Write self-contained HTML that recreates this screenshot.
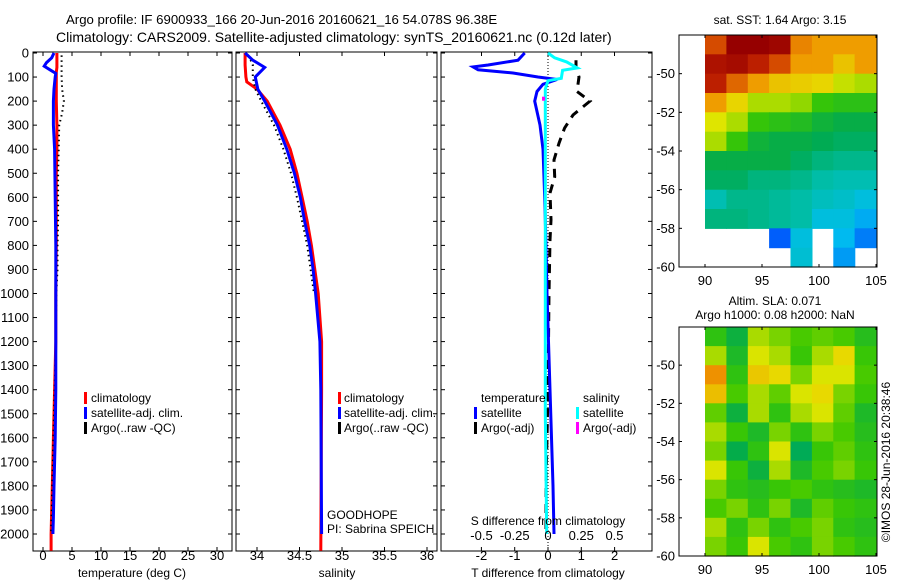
<!DOCTYPE html>
<html><head><meta charset="utf-8">
<style>
html,body{margin:0;padding:0;background:#fff;}
svg{display:block;font-family:"Liberation Sans",sans-serif;font-size:12px;}
</style></head>
<body>
<svg id="fig" width="900" height="580" viewBox="0 0 900 580" xmlns="http://www.w3.org/2000/svg">
<text x="66" y="24" font-size="13.2">Argo profile: IF 6900933_166 20-Jun-2016 20160621_16 54.078S 96.38E</text>
<text x="56" y="42" font-size="14">Climatology: CARS2009. Satellite-adjusted climatology: synTS_20160621.nc (0.12d later)</text>
<g id="g"></g>
</svg>
<script>
// ---------- data ----------
const climDepth = [0,20,40,60,80,100,150,200,300,400,500,600,800,1000,1200,1400,1600,1800,2000,2070];
const climTemp  = [2.4,2.4,2.4,2.4,2.3,2.3,2.3,2.3,2.4,2.4,2.3,2.3,2.3,2.2,2.2,2.0,1.8,1.6,1.4,1.4];
const satDepth  = [0,20,40,55,70,85,100,150,200,300,350,400,600,800,1000,1200,1400,1600,1800,1930,2000];
const satTemp   = [1.9,1.5,0.6,0.2,1.2,2.2,2.1,1.9,1.8,1.8,1.9,2.0,2.1,2.2,2.2,2.2,2.2,2.1,1.9,1.8,1.7];
const argoDepth = [10,50,100,150,200,250,300,400,500,600,700,800,900,1000,1200,1400,1600,1800,2000];
const argoTemp  = [3.2,3.2,3.2,3.3,3.6,3.3,2.8,2.7,2.6,2.6,2.6,2.5,2.5,2.3,2.2,2.0,1.8,1.6,1.4];

const climSalDepth = [0,50,100,120,150,200,300,400,500,600,700,800,900,1000,1200,1400,2070];
const climSal      = [33.86,33.86,33.87,33.88,34.0,34.12,34.27,34.39,34.47,34.53,34.59,34.64,34.68,34.72,34.76,34.76,34.75];
const satSalDepth  = [0,30,60,100,150,200,300,400,500,600,700,800,900,1000,1200,1400,2000];
const satSal       = [33.86,33.95,34.09,33.98,34.01,34.09,34.24,34.35,34.44,34.51,34.56,34.62,34.66,34.69,34.74,34.75,34.76];
const argoSalDepth = [10,50,100,150,200,300,400,500,600,700,800,900,1000];
const argoSal      = [33.9,33.95,33.95,33.98,34.05,34.2,34.31,34.4,34.47,34.53,34.59,34.63,34.67];

const dTDepth = [0,30,50,58,70,83,100,110,130,160,200,300,400,600,800,1000,1400,1800,2000];
const dTsat   = [-0.7,-0.9,-1.8,-2.25,-2.1,-1.05,-0.3,0.27,-0.15,-0.33,-0.4,-0.24,-0.15,-0.1,-0.06,-0.03,0.06,0.15,0.18];
const dTargoDepth = [30,58,100,160,200,258,312,375,445,515,582,694,777,1000,1400,1800,1990];
const dTargo      = [0.84,0.84,0.93,0.87,1.26,0.75,0.5,0.33,0.18,0.2,0.06,0.09,0.06,0.03,0.0,-0.06,-0.06];
const dSDepth = [0,20,37,62,72,105,115,150,300,600,1000,1500,2000];
const dSsat   = [0,0.05,0.14,0.22,0.11,0.1,0,-0.02,-0.02,-0.02,-0.02,-0.02,-0.01];

const depthTicks = [0,100,200,300,400,500,600,700,800,900,1000,1100,1200,1300,1400,1500,1600,1700,1800,1900,2000];
const tempTicks = [0,5,10,15,20,25,30];
const salTicks = [34,34.5,35,35.5,36];
const salTickLabels = ["34","34.5","35","35.5","36"];
const dTTicks = [-2,-1,0,1,2];
const dSTicks = [-0.5,-0.25,0,0.25,0.5];
const dSTickLabels = ["-0.5","-0.25","0","0.25","0.5"];
const latTicks = [-50,-52,-54,-56,-58,-60];
const lonTicks = [90,95,100,105];

// SST map grid (rows -48..-60, cols 90..105); null = no data
const sstGrid = [
 [5.6,6.5,6.5,6.4,5.2,5.0,5.0,5.0],
 [6.2,6.3,6.0,5.6,5.0,5.0,4.6,5.0],
 [6.0,5.4,5.0,4.6,4.5,4.4,4.1,4.0],
 [5.0,4.4,4.0,4.0,3.9,3.5,3.4,3.4],
 [4.2,4.0,3.5,3.4,3.3,3.1,3.0,3.0],
 [4.0,3.5,3.1,3.0,3.0,2.9,2.8,2.8],
 [3.0,3.0,3.0,3.0,2.8,2.6,2.5,2.5],
 [2.8,2.8,2.6,2.6,2.5,2.3,2.2,2.2],
 [2.2,2.5,2.5,2.4,2.3,2.1,2.0,1.8],
 [2.6,2.6,2.5,2.4,2.3,1.8,1.8,1.5],
 [null,null,null,1.0,1.8,null,1.6,1.2],
 [null,null,null,null,1.9,null,1.4,null]
];
const slaGrid = [
 [0.02,-0.02,0.08,0.06,0.04,0.05,0.04,0.01],
 [0.08,0.0,0.10,0.08,0.03,0.08,0.12,0.03],
 [0.20,0.02,0.14,0.12,0.06,0.10,0.10,0.04],
 [0.15,0.04,0.08,0.05,0.10,0.12,0.06,0.03],
 [0.05,-0.02,0.08,0.02,0.08,0.10,0.05,0.0],
 [0.08,0.03,0.0,0.06,0.02,0.06,0.04,0.01],
 [0.06,-0.03,0.02,0.10,-0.04,0.03,0.05,0.02],
 [0.10,0.03,-0.02,0.08,0.0,0.04,0.06,0.03],
 [0.06,0.02,0.01,0.03,0.04,0.02,0.01,0.0],
 [0.04,0.06,0.02,0.06,0.0,0.05,0.03,0.02],
 [0.08,0.02,0.06,0.02,0.04,0.06,0.02,0.01],
 [0.06,0.03,0.10,0.04,0.02,0.06,0.04,0.02]
];

// ---------- helpers ----------
const NS = "http://www.w3.org/2000/svg";
const G = document.getElementById("g");
function mk(tag, attrs, parent){
  const e = document.createElementNS(NS, tag);
  for (const k in attrs) e.setAttribute(k, attrs[k]);
  (parent||G).appendChild(e);
  return e;
}
const yD = d => 53 + d*0.2405;
const xT = v => 43 + v*5.8;
const xS = v => 257 + (v-34)*85;
const xdT = v => 548 + v*33.3;
const xdS = v => 548 + v*133;

function series(xf, vals, depths, color, w, dash, name){
  let p = "";
  for (let i=0;i<vals.length;i++) p += (i?"L":"M") + xf(vals[i]).toFixed(1) + " " + yD(depths[i]).toFixed(1);
  const e = mk("path",{d:p,fill:"none",stroke:color,"stroke-width":w});
  if (dash) e.setAttribute("stroke-dasharray", dash);
  
  
}
function panel(x0, x1, name, labels){
  const top=52, bot=551;
  const r = mk("rect",{x:x0,y:top,width:x1-x0,height:bot-top,fill:"none",stroke:"#000","stroke-width":1});
  
  
  depthTicks.forEach(d=>{
    const y = yD(d);
    mk("line",{x1:x0,x2:x0+4,y1:y,y2:y,stroke:"#000"});
    mk("line",{x1:x1-4,x2:x1,y1:y,y2:y,stroke:"#000"});
    if (labels){
      const t = mk("text",{x:x0-4,y:y+4.5,"text-anchor":"end","font-size":13});
      t.textContent = d;
      
      
    }
  });
}
function xticks(xf, ticks, labels, y, name, topTicks){
  ticks.forEach((v,i)=>{
    const x = xf(v);
    mk("line",{x1:x,x2:x,y1:551,y2:547,stroke:"#000"});
    if (topTicks) mk("line",{x1:x,x2:x,y1:52,y2:56,stroke:"#000"});
    const t = mk("text",{x:x,y:y,"text-anchor":"middle","font-size":13});
    t.textContent = labels[i];
    
    
  });
}
function label(x,y,txt,name,anchor,fs){
  const t = mk("text",{x:x,y:y,"text-anchor":anchor||"start"});
  if (fs) t.setAttribute("font-size", fs);
  t.textContent = txt;
  
  
  return t;
}
function legendBar(x,y,color,name){
  const r = mk("rect",{x:x,y:y-10,width:3,height:12,fill:color});
  
  
}

// ---------- panel 1: temperature ----------
panel(33,232,"temperature-panel",true);
xticks(xT, tempTicks, tempTicks.map(String), 560, "temperature-tick-label", true);
label(132,577,"temperature (deg C)","temperature-axis-title","middle");
series(xT, climTemp, climDepth, "#f00", 3, null, "temperature-climatology-line");
series(xT, argoTemp, argoDepth, "#000", 2, "1.5,3.5", "temperature-argo-line");
series(xT, satTemp, satDepth, "#00f", 3, null, "temperature-satellite-line");
legendBar(84,402,"#f00","legend-climatology-marker"); label(91,402,"climatology","legend-climatology");
legendBar(84,417,"#00f","legend-satellite-marker"); label(91,417,"satellite-adj. clim.","legend-satellite");
legendBar(84,432,"#000","legend-argo-marker"); label(91,432,"Argo(..raw -QC)","legend-argo");

// ---------- panel 2: salinity ----------
panel(236,437,"salinity-panel",false);
xticks(xS, salTicks, salTickLabels, 560, "salinity-tick-label", true);
label(337,577,"salinity","salinity-axis-title","middle");
series(xS, climSal, climSalDepth, "#f00", 3, null, "salinity-climatology-line");
series(xS, argoSal, argoSalDepth, "#000", 2, "1.5,3.5", "salinity-argo-line");
series(xS, satSal, satSalDepth, "#00f", 3, null, "salinity-satellite-line");
legendBar(338,402,"#f00","legend2-climatology-marker"); label(344,402,"climatology","legend2-climatology");
legendBar(338,417,"#00f","legend2-satellite-marker"); label(344,417,"satellite-adj. clim.","legend2-satellite");
legendBar(338,432,"#000","legend2-argo-marker"); label(344,432,"Argo(..raw -QC)","legend2-argo");
label(327,519,"GOODHOPE","project-label");
label(327,533,"PI: Sabrina SPEICH","pi-label");

// ---------- panel 3: differences ----------
panel(441,652,"difference-panel",false);
xticks(xdT, dTTicks, dTTicks.map(String), 560, "t-diff-tick-label", false);
dSTicks.forEach((v,i)=>{ const x=xdS(v); mk("line",{x1:x,x2:x,y1:52,y2:56,stroke:"#000"}); });
label(548,577,"T difference from climatology","t-diff-axis-title","middle");
const zl = mk("line",{x1:xdT(0),x2:xdT(0),y1:53,y2:551,stroke:"#000","stroke-width":1,"stroke-dasharray":"1,2"});


series(xdT, dTargo, dTargoDepth, "#000", 3, "9,7", "t-diff-argo-line");
series(xdT, dTsat, dTDepth, "#00f", 3, null, "t-diff-satellite-line");
series(xdS, dSsat, dSDepth, "#0ff", 3, null, "s-diff-satellite-line");
const mg = mk("rect",{x:xdS(-0.03)-2,y:yD(190)-2,width:3,height:4,fill:"#f0f"});


label(481,402,"temperature","legend3-temperature-header");
label(583,402,"salinity","legend3-salinity-header");
legendBar(474,417,"#00f","legend3-t-satellite-marker"); label(481,417,"satellite","legend3-t-satellite");
legendBar(474,432,"#000","legend3-t-argo-marker"); label(481,432,"Argo(-adj)","legend3-t-argo");
legendBar(576,417,"#0ff","legend3-s-satellite-marker"); label(583,417,"satellite","legend3-s-satellite");
legendBar(576,432,"#f0f","legend3-s-argo-marker"); label(583,432,"Argo(-adj)","legend3-s-argo");
label(548,525,"S difference from climatology","s-diff-axis-title","middle");
dSTicks.forEach((v,i)=>{ label(xdS(v),540,dSTickLabels[i],"s-diff-tick-label","middle",13); });

// ---------- maps ----------
const cmapStops = [[0,0,0,130],[0.12,0,60,255],[0.25,0,190,240],[0.35,0,190,170],[0.45,0,170,80],[0.55,60,200,0],[0.65,230,230,0],[0.78,240,150,0],[0.9,200,40,0],[1,150,0,0]];
function cmap(t){
  t = Math.max(0,Math.min(1,t));
  for (let i=1;i<cmapStops.length;i++){
    const a=cmapStops[i-1], b=cmapStops[i];
    if (t<=b[0]){
      const f=(t-a[0])/(b[0]-a[0]);
      return "rgb("+[1,2,3].map(k=>Math.round(a[k]+(b[k]-a[k])*f)).join(",")+")";
    }
  }
  return "rgb(150,0,0)";
}
function map(top, bot, grid, cmin, cmax, name){
  const left=679, right=877;
  const xL = lon => 705 + (lon-90)*11.4;
  const yL = lat => top + (-48-lat)*((bot-top)/12);
  const nr = grid.length, nc = grid[0].length;
  const cw = 15/nc;
  for (let r=0;r<nr;r++) for (let c=0;c<nc;c++){
    const v = grid[r][c];
    if (v===null) continue;
    const x0 = xL(90+c*cw), x1 = xL(90+(c+1)*cw);
    const y0 = yL(-48-r), y1 = yL(-49-r);
    const cell = mk("rect",{x:x0.toFixed(1),y:y0.toFixed(1),width:(x1-x0+0.6).toFixed(1),height:(y1-y0+0.6).toFixed(1),fill:cmap((v-cmin)/(cmax-cmin))});
    
    
  }
  const b = mk("rect",{x:left,y:top,width:right-left,height:bot-top,fill:"none",stroke:"#000"});
  
  
  latTicks.forEach(l=>{
    const y=yL(l);
    mk("line",{x1:left,x2:left+3,y1:y,y2:y,stroke:"#000"});
    mk("line",{x1:right-3,x2:right,y1:y,y2:y,stroke:"#000"});
    label(left-4,y+4.5,String(l),name+'-lat-label',"end",13);
  });
  lonTicks.forEach(l=>{
    const x=xL(l);
    mk("line",{x1:x,x2:x,y1:bot,y2:bot-3,stroke:"#000"});
    mk("line",{x1:x,x2:x,y1:top,y2:top+3,stroke:"#000"});
    label(x,bot+18,String(l),name+'-lon-label',"middle",13);
  });
}
map(35, 267, sstGrid, 0, 6.5, "sst-map");
label(780,24,"sat. SST: 1.64  Argo: 3.15","sst-map-title","middle");
map(327, 556, slaGrid, -0.35, 0.35, "sla-map");
label(775,305,"Altim. SLA: 0.071","sla-map-title","middle");
label(775,319,"Argo h1000: 0.08 h2000: NaN","sla-map-subtitle","middle");
const cr = label(0,0,"©IMOS 28-Jun-2016 20:38:46","imos-credit","middle");
cr.setAttribute("transform","translate(890,462) rotate(-90)");
</script>
</body></html>
